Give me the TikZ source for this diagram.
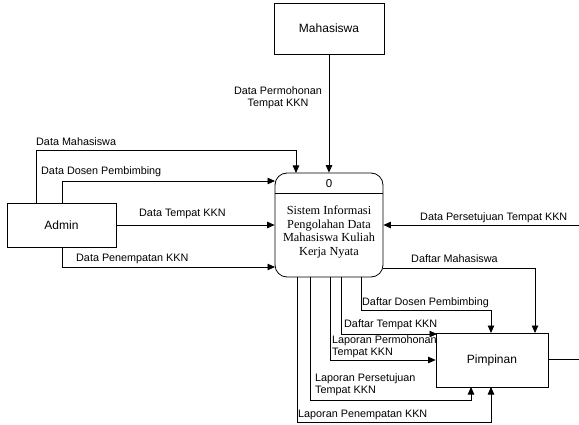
\documentclass[tikz,border=0pt]{standalone}
\usepackage{fontspec}
\setmainfont{Liberation Sans}
\newfontfamily\serifproc{Liberation Serif}
\usetikzlibrary{arrows.meta}
\begin{document}
\begin{tikzpicture}[x=1pt,y=-1pt,
  ent/.style={draw,line width=0.8pt,inner sep=0,font=\fontsize{12}{14}\selectfont},
  flow/.style={draw,line width=0.8pt,-{Triangle[length=7.5pt,width=6.5pt]}},
  plain/.style={draw,line width=0.8pt},
  lbl/.style={inner sep=0,font=\fontsize{10.8}{11.8}\selectfont,align=left},
  clbl/.style={inner sep=0,font=\fontsize{10.8}{11.8}\selectfont,align=center}]
\clip (0,0) rectangle (579,425);
\fill[white] (0,0) rectangle (579,425);
% entities
\node[ent,minimum width=110pt,minimum height=51pt] (mhs) at (329,28.5) {Mahasiswa};
\node[ent,minimum width=109pt,minimum height=44pt] (admin) at (61.5,225) {Admin};
\node[ent,minimum width=112pt,minimum height=54pt] (pim) at (492,360) {Pimpinan};
% process
\node[draw,line width=0.8pt,rounded corners=12pt,minimum width=108pt,minimum height=104pt,inner sep=0] (proc) at (329,225) {};
\coordinate (dl) at (275,193);
\coordinate (dr) at (383,193);
\draw[line width=0.8pt] (dl) -- (dr);
\node[inner sep=0,font=\fontsize{11.5}{13}\selectfont] (pnum) at (329,184) {0};
\node[inner sep=0,align=center,font=\serifproc\fontsize{12.3}{13.5}\selectfont] (ptext) at (329,232) {Sistem Informasi\\Pengolahan Data\\Mahasiswa Kuliah\\Kerja Nyata};
% coordinates
\coordinate (pt1) at (296,173);
\coordinate (pl1) at (275,181);
\coordinate (pl3) at (275,267);
\coordinate (pr2) at (383,268);
\coordinate (a1) at (36,203);
\coordinate (a2) at (62,203);
\coordinate (a3) at (62,247);
\coordinate (b1) at (361,277);
\coordinate (b2) at (341,277);
\coordinate (b3) at (330,277);
\coordinate (b4) at (310,277);
\coordinate (b5) at (297,277);
\coordinate (pimtop1) at (491,333);
\coordinate (pimtop2) at (535,333);
\coordinate (pimcorner) at (437,334);
\coordinate (pimbot1) at (471,387);
\coordinate (pimbot2) at (491,387);
\coordinate (offr) at (600,225);
\coordinate (offr2) at (600,359);
% flows
\draw[flow] (mhs.south) -- (proc.north);
\draw[flow] (a1) -- (36,150) -- (296,150) -- (pt1);
\draw[flow] (a2) -- (62,181) -- (pl1);
\draw[flow] (admin.east) -- (proc.west);
\draw[flow] (a3) -- (62,267) -- (pl3);
\draw[flow] (offr) -- (proc.east);
\draw[flow] (pr2) -- (535,268) -- (pimtop2);
\draw[flow] (b1) -- (361,310) -- (491,310) -- (pimtop1);
\draw[flow] (b2) -- (341,334) -- (pimcorner);
\draw[flow] (b3) -- (330,360) -- (pim.west);
\draw[flow] (b4) -- (310,400) -- (471,400) -- (pimbot1);
\draw[flow] (b5) -- (297,422) -- (491,422) -- (pimbot2);
\draw[plain] (pim.east |- offr2) -- (offr2);
% labels
\node[clbl] (l1) at (278,97.5) {Data Permohonan\\Tempat KKN};
\node[lbl,anchor=west] (l2) at (36,142) {Data Mahasiswa};
\node[lbl,anchor=west] (l3) at (41,172) {Data Dosen Pembimbing};
\node[lbl,anchor=west] (l4) at (139,214) {Data Tempat KKN};
\node[lbl,anchor=west] (l5) at (76,259) {Data Penempatan KKN};
\node[lbl,anchor=west] (l6) at (420,218) {Data Persetujuan Tempat KKN};
\node[lbl,anchor=west] (l7) at (411,258.5) {Daftar Mahasiswa};
\node[lbl,anchor=west] (l8) at (362,303) {Daftar Dosen Pembimbing};
\node[lbl,anchor=west] (l9) at (344,325) {Daftar Tempat KKN};
\node[lbl,anchor=west] (l10) at (332,347) {Laporan Permohonan\\Tempat KKN};
\node[lbl,anchor=west] (l11) at (315,385) {Laporan Persetujuan\\Tempat KKN};
\node[lbl,anchor=west] (l12) at (298,415) {Laporan Penempatan KKN};
\end{tikzpicture}
\end{document}
